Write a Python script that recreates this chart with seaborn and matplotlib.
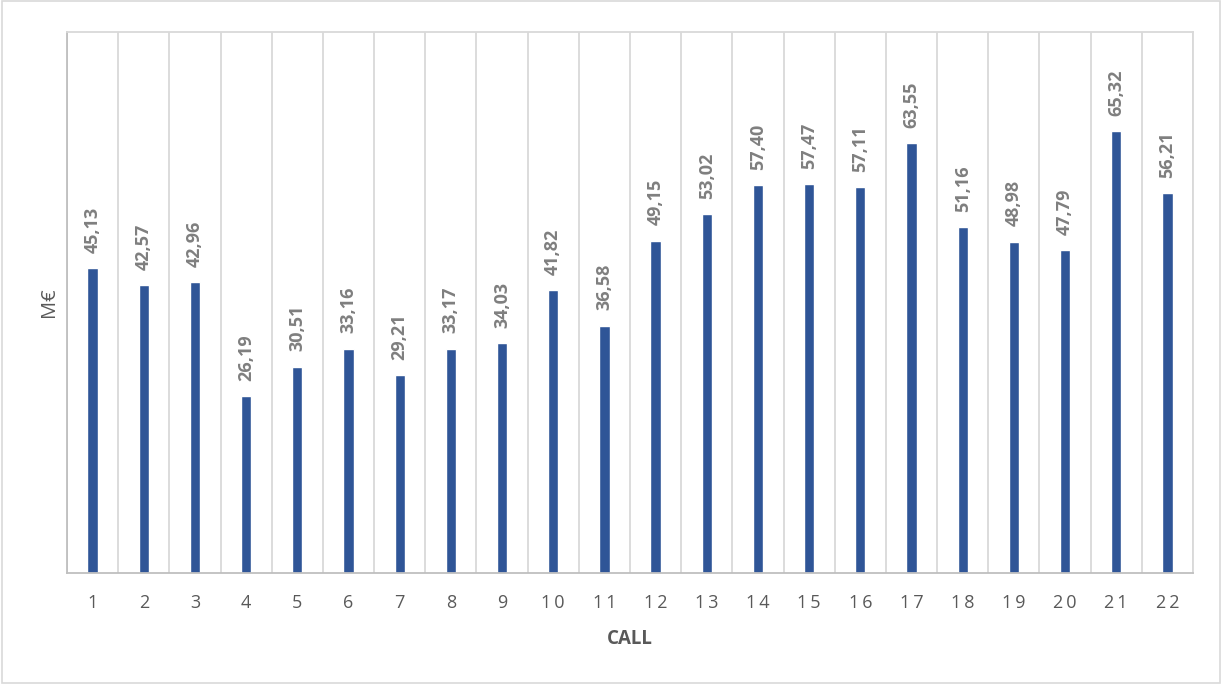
import matplotlib
matplotlib.use("Agg")
import matplotlib.pyplot as plt
import seaborn as sns
import pandas as pd
import numpy as np
from matplotlib.ticker import FixedLocator
from matplotlib.patches import Rectangle

calls = [str(i) for i in range(1, 23)]
values = [45.13, 42.57, 42.96, 26.19, 30.51, 33.16, 29.21, 33.17, 34.03, 41.82, 36.58,
          49.15, 53.02, 57.40, 57.47, 57.11, 63.55, 51.16, 48.98, 47.79, 65.32, 56.21]

df = pd.DataFrame({"CALL": calls, "value": values})

sns.set_theme(style="white")
plt.rcParams['font.family'] = ['Open Sans', 'DejaVu Sans']

fig = plt.figure(figsize=(12.22, 6.84), dpi=100)
ax = fig.add_axes([67/1222, 1 - 573/684, (1193-67)/1222, (573-32)/684])

sns.barplot(data=df, x="CALL", y="value", color="#2F5597", width=0.2, ax=ax,
            saturation=1)

ax.set_ylim(0, 80)
ax.set_xlim(-0.5, len(calls) - 0.5)
ax.set_yticks([])
ax.xaxis.set_minor_locator(FixedLocator(np.arange(-0.5, len(calls), 1.0)))
ax.grid(True, which="minor", axis="x", color="#d9d9d9", linewidth=1.3)
ax.tick_params(axis="x", which="both", length=0)
ax.tick_params(axis="x", which="major", pad=15, labelsize=13, labelcolor="#595959")
ax.set_xticks(range(len(calls)))
ax.set_xticklabels(["\u2009".join(c) for c in calls])

for side in ["left", "bottom"]:
    ax.spines[side].set_color("#bfbfbf")
    ax.spines[side].set_linewidth(1.3)
for side in ["top", "right"]:
    ax.spines[side].set_color("#d9d9d9")
    ax.spines[side].set_linewidth(1.3)

for i, v in enumerate(values):
    ax.annotate(f"{v:.2f}".replace(".", ","), xy=(i, v), xytext=(0, 11),
                textcoords="offset points", rotation=90, ha="center", va="bottom",
                fontsize=13, fontweight="bold", color="#7f7f7f")

ax.set_xlabel("CALL", fontsize=13.5, fontweight="bold", color="#595959", labelpad=12)
ax.set_ylabel("M€", fontsize=14.5, color="#595959", labelpad=6)

fig.patches.append(Rectangle((0.002, 0.002), 0.996, 0.996, transform=fig.transFigure,
                             fill=False, edgecolor="#d9d9d9", linewidth=1.2))

fig.savefig("out.png", dpi=100)
